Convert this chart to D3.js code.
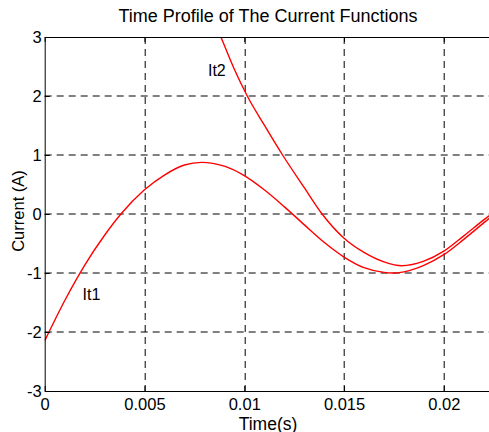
<!DOCTYPE html>
<html>
<head>
<meta charset="utf-8">
<script src="https://cdn.jsdelivr.net/npm/d3@7"></script>
<style>
  body { margin: 0; background: #fff; }
  text { font-family: "Liberation Sans", Arial, sans-serif; fill: #000; }
</style>
</head>
<body>
<div id="chart"></div>
<script>
// time in ms, current in A
const timeIt1 = [0, 1, 2, 3, 3.82, 5, 6, 7, 7.86, 9, 10, 11, 12, 13, 14, 15, 16, 17, 17.4, 18, 19, 20, 21, 22, 22.5]
const valIt1  = [-2.15, -1.47, -0.87, -0.36, 0, 0.41, 0.66, 0.83, 0.875, 0.81, 0.65, 0.41, 0.125, -0.18, -0.48, -0.73, -0.91, -0.99, -1.0, -0.98, -0.87, -0.69, -0.43, -0.15, -0.01]

const timeIt2 = [8.6, 8.83, 9.48, 10.15, 11, 11.92, 13, 13.9, 15, 16, 17, 17.9, 19, 20, 21, 22, 22.5]
const valIt2  = [3.19, 3.0, 2.47, 2.0, 1.51, 1.0, 0.45, 0, -0.41, -0.65, -0.81, -0.876, -0.8, -0.63, -0.37, -0.1, 0.03]

const xTicks = [0, 0.005, 0.01, 0.015, 0.02]
const yTicks = [-3, -2, -1, 0, 1, 2, 3]

const curveLabels = [
  {name: "It1", t: 1.9, v: -1.46},
  {name: "It2", t: 8.18, v: 2.34}
]

const margin = {top: 37, left: 44.7},
    width = 449,
    height = 354;

const svg = d3.select("#chart")
  .append("svg")
    .attr("width", 489)
    .attr("height", 432)

const g = svg.append("g")
    .attr("transform", `translate(${margin.left}, ${margin.top})`);

const xScale = d3.scaleLinear().domain([0, 0.0225]).range([0, width]),
      yScale = d3.scaleLinear().domain([-3, 3]).range([height, 0])

// dashed grid
g.selectAll(".vgrid")
  .data(xTicks.filter(d => d > 0))
  .enter()
  .append("line")
  .attr("x1", d => Math.round(xScale(d)) + 0.5)
  .attr("x2", d => Math.round(xScale(d)) + 0.5)
  .attr("y1", 0)
  .attr("y2", height)
  .attr("stroke", "#000")
  .attr("stroke-dasharray", "7,5")

g.selectAll(".hgrid")
  .data(yTicks.filter(d => d > -3 && d < 3))
  .enter()
  .append("line")
  .attr("x1", 0)
  .attr("x2", width)
  .attr("y1", d => yScale(d))
  .attr("y2", d => yScale(d))
  .attr("stroke", "#000")
  .attr("stroke-dasharray", "7,5")

// curves, clipped to the axes box
g.append("clipPath")
  .attr("id", "plotclip")
  .append("rect")
  .attr("width", width)
  .attr("height", height)

const line = d3.line()
  .x(d => xScale(d[0] / 1000))
  .y(d => yScale(d[1]))
  .curve(d3.curveMonotoneX)

g.append("path")
  .datum(d3.zip(timeIt1, valIt1))
  .attr("clip-path", "url(#plotclip)")
  .attr("fill", "none")
  .attr("stroke", "#ff0000")
  .attr("stroke-width", 1.4)
  .attr("d", line)

g.append("path")
  .datum(d3.zip(timeIt2, valIt2))
  .attr("clip-path", "url(#plotclip)")
  .attr("fill", "none")
  .attr("stroke", "#ff0000")
  .attr("stroke-width", 1.4)
  .attr("d", line)

// axes, ticks pointing inward like matlab
g.append("g")
  .attr("transform", `translate(0, ${height})`)
  .call(d3.axisBottom(xScale).tickValues(xTicks).tickFormat(d => String(d))
    .tickSizeInner(-5).tickSizeOuter(0).tickPadding(7.5))

g.append("g")
  .call(d3.axisTop(xScale).tickValues(xTicks).tickFormat("")
    .tickSizeInner(-5).tickSizeOuter(0))

g.append("g")
  .call(d3.axisLeft(yScale).tickValues(yTicks).tickFormat(d => String(d))
    .tickSizeInner(-5).tickSizeOuter(0).tickPadding(3))

g.selectAll(".domain, .tick line")
  .attr("stroke", "#000")
  .attr("stroke-width", 1)

g.selectAll(".tick text")
  .style("font-size", "16.5px")
  .style("font-family", "'Liberation Sans', Arial, sans-serif")
  .attr("fill", "#000")

// curve labels
g.selectAll(".clabel")
  .data(curveLabels)
  .enter()
  .append("text")
  .attr("x", d => xScale(d.t / 1000))
  .attr("y", d => yScale(d.v))
  .style("font-size", "16px")
  .text(d => d.name)

// titles
svg.append("text")
  .attr("x", 268)
  .attr("y", 22)
  .attr("text-anchor", "middle")
  .style("font-size", "18px")
  .text("Time Profile of The Current Functions")

svg.append("text")
  .attr("x", 268)
  .attr("y", 429.5)
  .attr("text-anchor", "middle")
  .style("font-size", "17.5px")
  .text("Time(s)")

svg.append("text")
  .attr("transform", "translate(24, 211) rotate(-90)")
  .attr("text-anchor", "middle")
  .style("font-size", "16.5px")
  .text("Current (A)")
</script>
</body>
</html>
